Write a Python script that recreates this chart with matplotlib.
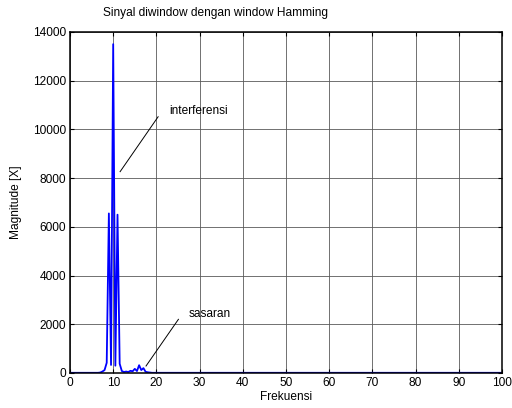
import numpy as np
import matplotlib.pyplot as plt

plt.rcParams['font.family'] = ['Liberation Sans', 'DejaVu Sans']

# spektrum magnitudo, resolusi 0.5 Hz
frek = np.arange(0, 100.5, 0.5)
mag = np.full(frek.shape, 8.0)
puncak_frek = [7.0, 7.5, 8.0, 8.5, 9.0, 9.5, 10.0, 10.5, 11.0, 11.5, 12.0, 12.5,
               13.0, 13.5, 14.0, 14.5, 15.0, 15.5, 16.0, 16.5, 17.0, 17.5, 18.0, 18.5]
puncak_mag = [20, 60, 120, 420, 6550, 330, 13500, 300, 6500, 380, 80, 40,
              60, 40, 90, 70, 170, 80, 320, 120, 200, 50, 30, 20]
for f, m in zip(puncak_frek, puncak_mag):
    mag[np.isclose(frek, f)] = m

fs = 8.6
fig = plt.figure(figsize=(5.12, 4.08), dpi=100)
ax = fig.add_axes([0.1367, 0.0858, 0.8438, 0.8358])
ax.plot(frek, mag, color='#0000ff', lw=1.3)

ax.set_xlim(0, 100)
ax.set_ylim(0, 14000)
ax.set_xticks(np.arange(0, 101, 10))
ax.set_yticks(np.arange(0, 14001, 2000))
ax.grid(True, color='0.35', lw=0.6)
ax.tick_params(direction='in', top=True, right=True, labelsize=fs, length=3, pad=3)
for s in ax.spines.values():
    s.set_linewidth(1.1)

ax.set_xlabel('Frekuensi', fontsize=fs, labelpad=1)
ax.set_ylabel('Magnitude [X]', fontsize=fs, labelpad=8)
fig.text(0.42, 0.968, 'Sinyal diwindow dengan window Hamming', fontsize=fs,
         ha='center', va='center')

# keterangan
ax.plot([20.4, 11.6], [10520, 8265], color='k', lw=0.7)
ax.text(23, 10770, 'interferensi', fontsize=fs, va='center')
ax.plot([25.1, 17.6], [2204, 287], color='k', lw=0.7)
ax.text(27.4, 2420, 'sasaran', fontsize=fs, va='center')

fig.savefig('out.png', dpi=100)
